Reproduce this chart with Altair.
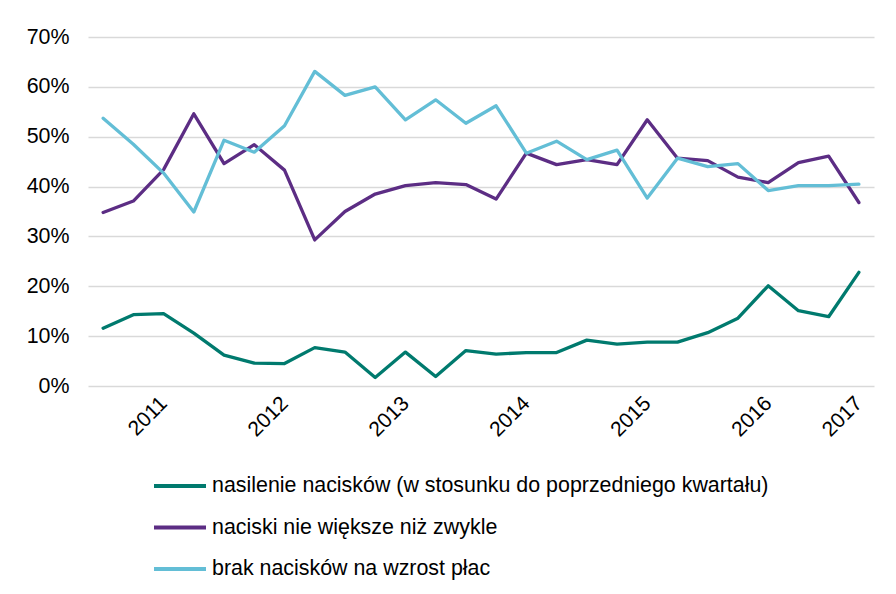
import altair as alt
import pandas as pd

quarters = ["2010 Q3", "2010 Q4",
            "2011 Q1", "2011 Q2", "2011 Q3", "2011 Q4",
            "2012 Q1", "2012 Q2", "2012 Q3", "2012 Q4",
            "2013 Q1", "2013 Q2", "2013 Q3", "2013 Q4",
            "2014 Q1", "2014 Q2", "2014 Q3", "2014 Q4",
            "2015 Q1", "2015 Q2", "2015 Q3", "2015 Q4",
            "2016 Q1", "2016 Q2", "2016 Q3", "2016 Q4"]
x_labels = ["", "", "2011", "", "", "", "2012", "", "", "", "2013", "", "", "",
            "2014", "", "", "", "2015", "", "", "", "2016", "", "", "2017"]

series_names = ["nasilenie nacisków (w stosunku do poprzedniego kwartału)",
                "naciski nie większe niż zwykle",
                "brak nacisków na wzrost płac"]
series_colors = ["#007A6E", "#5C2D84", "#63BED6"]

nasilenie = [11.6, 14.3, 14.5, 10.6, 6.2, 4.6, 4.5, 7.7, 6.8, 1.7, 6.8, 1.9, 7.1,
             6.4, 6.7, 6.7, 9.2, 8.4, 8.8, 8.8, 10.7, 13.6, 20.1, 15.1, 13.9, 22.8]
nie_wieksze = [34.8, 37.1, 43.4, 54.6, 44.6, 48.4, 43.3, 29.3, 35.0, 38.5, 40.2, 40.8, 40.4,
               37.5, 46.7, 44.4, 45.4, 44.4, 53.4, 45.7, 45.2, 41.9, 40.8, 44.8, 46.1, 36.8]
brak = [53.7, 48.5, 42.7, 34.9, 49.3, 46.9, 52.2, 63.1, 58.3, 60.0, 53.4, 57.4, 52.7,
        56.2, 46.7, 49.1, 45.4, 47.3, 37.7, 45.7, 44.0, 44.6, 39.2, 40.2, 40.2, 40.5]

rows = []
for name, vals in zip(series_names, [nasilenie, nie_wieksze, brak]):
    for i, (q, v) in enumerate(zip(quarters, vals)):
        rows.append({"kwartal": q, "seria": name, "wartosc": v / 100, "order": i})
df = pd.DataFrame(rows)

q_arr = "[" + ",".join("'%s'" % q for q in quarters) + "]"
l_arr = "[" + ",".join("'%s'" % l for l in x_labels) + "]"
label_expr = f"{l_arr}[indexof({q_arr}, datum.value)]"

FONT = "Liberation Sans"

chart = alt.Chart(df).mark_line(strokeWidth=3.3, strokeJoin="round", strokeCap="round").encode(
    x=alt.X("kwartal:O", sort=quarters,
            scale=alt.Scale(padding=0.5),
            axis=alt.Axis(title=None, labelExpr=label_expr, labelAngle=-45,
                          labelAlign="right", labelBaseline="middle",
                          labelPadding=14, labelOverlap=False,
                          ticks=False, domain=False, grid=False,
                          labelFont=FONT, labelFontSize=21, labelColor="#000000")),
    y=alt.Y("wartosc:Q",
            scale=alt.Scale(domain=[0, 0.7], nice=False),
            axis=alt.Axis(title=None, format=".0%", values=[0, 0.1, 0.2, 0.3, 0.4, 0.5, 0.6, 0.7],
                          ticks=False, domain=False, gridColor="#D9D9D9", gridWidth=1.3,
                          labelPadding=19, labelFont=FONT, labelFontSize=21.4,
                          labelColor="#000000")),
    color=alt.Color("seria:N",
                    scale=alt.Scale(domain=series_names, range=series_colors),
                    legend=alt.Legend(title=None, orient="none", legendX=77, legendY=434,
                                      direction="vertical", padding=0,
                                      symbolType="M-2,0H2", symbolSize=676,
                                      symbolStrokeWidth=4, labelOffset=17,
                                      rowPadding=15.5, labelFont=FONT, labelFontSize=21.4,
                                      labelColor="#000000", labelLimit=800)),
    order="order:Q",
).properties(
    width=786, height=349,
    background="white",
    autosize=alt.AutoSizeParams(type="none"),
    padding={"left": 80, "top": 29, "right": 14, "bottom": 200},
).configure_view(stroke=None)

chart.save("out.html", embed_options={"renderer": "svg", "actions": False})
